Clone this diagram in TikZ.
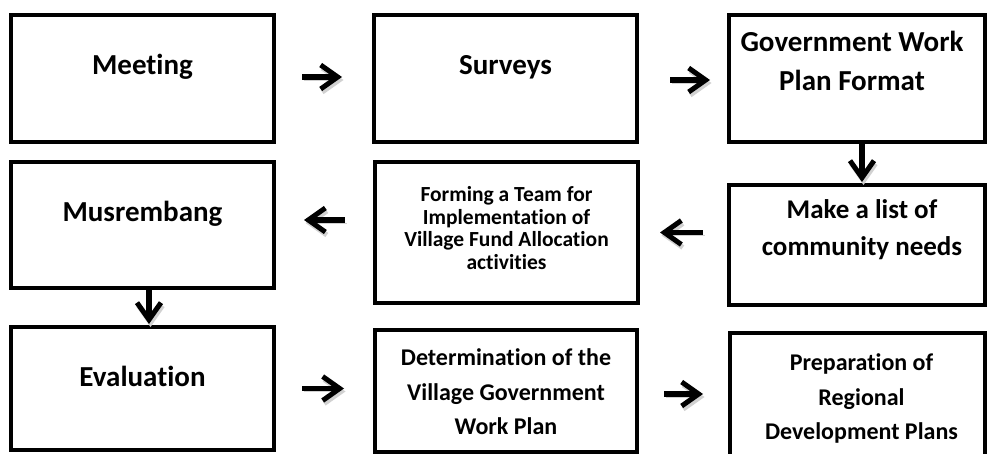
\documentclass[tikz,border=0pt]{standalone}
\usepackage{fontspec}
\setmainfont{Carlito}[Ligatures=NoCommon]
\usetikzlibrary{arrows.meta,positioning}

\begin{document}
\begin{tikzpicture}[x=1pt,y=1pt,
box/.style = {draw, line width=4pt, inner sep=0pt},
big/.style = {font=\fontsize{29}{39}\selectfont\bfseries, align=center},
mid/.style = {font=\fontsize{27}{37}\selectfont\bfseries, align=center},
sml/.style = {font=\fontsize{24}{34.5}\selectfont\bfseries, align=center},
tiny/.style = {font=\fontsize{21.5}{22.5}\selectfont\bfseries, align=center},
arr/.style = {-{Straight Barb[length=17pt,width=24pt,line width=5pt]}, line width=5.5pt,
  preaction={draw=black!18, transform canvas={shift={(1.5pt,-3pt)}}}}]

\useasboundingbox (0,0) rectangle (988,453);
\clip (0,0) rectangle (988,453);

\node[box, minimum width=263pt, minimum height=127pt] (meet) at (142.5,374.5) {};
\node[box, minimum width=263pt, minimum height=127pt] (surv) at (505.5,374.5) {};
\node[box, minimum width=256pt, minimum height=127pt] (fmt) at (857,374.5) {};
\node[box, minimum width=263pt, minimum height=126pt] (musr) at (142.5,228) {};
\node[box, minimum width=263pt, minimum height=141pt] (team) at (506.5,220.5) {};
\node[box, minimum width=256pt, minimum height=120pt] (need) at (857,208) {};
\node[box, minimum width=263pt, minimum height=123pt] (eval) at (142.5,64.5) {};
\node[box, minimum width=262pt, minimum height=122pt] (det) at (506,62) {};
\node[box, minimum width=255pt, minimum height=146pt] (prep) at (857.5,47) {};

\node[big] (meetT) at ([yshift=-54pt]meet.north) {Meeting};
\node[big] (survT) at ([yshift=-54pt]surv.north) {Surveys};
\node[big] (fmtT) at ([xshift=-5pt,yshift=-48pt]fmt.north) {Government Work\\Plan Format};
\node[big] (musrT) at ([yshift=-54pt]musr.north) {Musrembang};
\node[tiny] (teamT) at ([yshift=-68pt]team.north) {Forming a Team for\\Implementation of\\Village Fund Allocation\\activities};
\node[mid] (needT) at ([xshift=5pt,yshift=-47pt]need.north) {Make a list of\\community needs};
\node[big] (evalT) at ([yshift=-51pt]eval.north) {Evaluation};
\node[sml] (detT) at ([yshift=-64pt]det.north) {Determination of the\\Village Government\\Work Plan};
\node[sml] (prepT) at ([xshift=4pt,yshift=-67.5pt]prep.north) {Preparation of\\Regional\\Development Plans};

\draw[arr, shorten <=26pt, shorten >=30pt] ([yshift=1.5pt]meet.east) -- ([yshift=1.5pt]surv.west);
\draw[arr, shorten <=31pt, shorten >=17pt] ([yshift=-1.5pt]surv.east) -- ([yshift=-1.5pt]fmt.west);
\draw[arr, shorten >=1pt] ([xshift=5pt]fmt.south) -- ([xshift=5pt]need.north);
\draw[arr, shorten <=24pt, shorten >=20pt] (need.west |- team.east) -- (team.east);
\draw[arr, shorten <=28pt, shorten >=28pt] ([yshift=5pt]team.west |- musr.east) -- ([yshift=5pt]musr.east);
\draw[arr, shorten >=1pt] ([xshift=6.5pt]musr.south) -- ([xshift=6.5pt]eval.north);
\draw[arr, shorten <=26pt, shorten >=29pt] (eval.east) -- (eval.east -| det.west);
\draw[arr, shorten <=25pt, shorten >=25pt] ([yshift=-3pt]det.east) -- ([yshift=-3pt]det.east -| prep.west);
\end{tikzpicture}
\end{document}
